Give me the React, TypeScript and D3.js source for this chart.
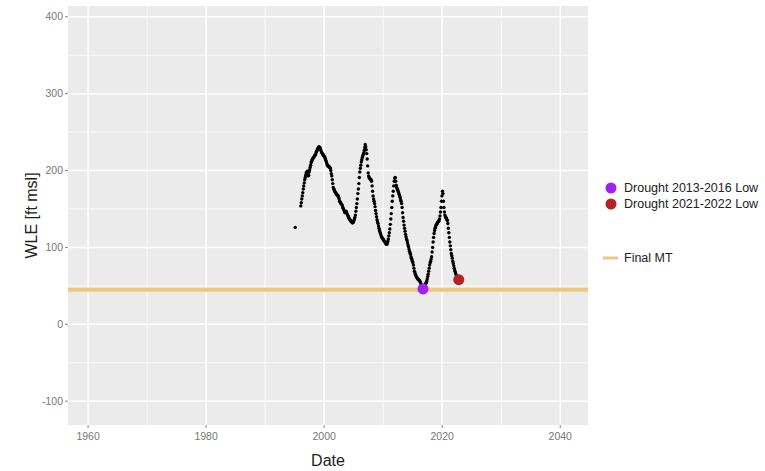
import React from "react";
import * as d3 from "d3";

const startYear = 1996.0;
// monthly WLE readings (ft msl), Jan 1996 onward
const wle: number[] = [
  // 1996
  154, 158, 163, 167, 171, 176, 180, 184, 188, 191, 194, 197,
  // 1997
  197, 199, 196, 193, 194, 198, 201, 204, 207, 210, 212, 214,
  // 1998
  215, 216, 217, 218, 219, 220, 221, 223, 225, 226, 228, 229,
  // 1999
  230, 231, 230, 230, 228, 226, 224, 223, 222, 221, 220, 219,
  // 2000
  218, 217, 215, 213, 211, 209, 207, 206, 206, 205, 205, 204,
  // 2001
  203, 200, 196, 193, 188, 183, 178, 176, 175, 173, 172, 171,
  // 2002
  170, 169, 168, 168, 167, 165, 163, 160, 159, 158, 157, 156,
  // 2003
  155, 153, 151, 150, 148, 146, 145, 146, 147, 146, 144, 142,
  // 2004
  141, 140, 138, 137, 136, 135, 134, 133, 133, 132, 132, 133,
  // 2005
  135, 137, 139, 142, 147, 152, 157, 163, 170, 176, 183, 191,
  // 2006
  198, 203, 207, 211, 214, 217, 219, 221, 223, 226, 230, 234,
  // 2007
  231, 227, 222, 215, 206, 197, 193, 191, 190, 189, 188, 188,
  // 2008
  186, 180, 173, 167, 163, 160, 157, 153, 148, 144, 140, 136,
  // 2009
  133, 131, 128, 125, 122, 120, 118, 116, 114, 113, 112, 111,
  // 2010
  110, 109, 108, 107, 106, 105, 104, 104, 106, 108, 111, 115,
  // 2011
  119, 124, 130, 137, 144, 152, 160, 167, 173, 180, 186, 190,
  // 2012
  191, 186, 181, 178, 176, 175, 173, 171, 169, 167, 165, 162,
  // 2013
  160, 157, 152, 145, 139, 134, 129, 125, 121, 117, 114, 111,
  // 2014
  109, 106, 103, 101, 98, 95, 93, 91, 88, 86, 84, 82,
  // 2015
  80, 77, 73, 69, 67, 65, 63, 62, 61, 60, 59, 58,
  // 2016
  58, 57, 56, 55, 53, 51, 49, 47, 46, 46, 47, 49,
  // 2017
  51, 52, 53, 54, 56, 59, 62, 65, 69, 73, 77, 80,
  // 2018
  82, 85, 88, 94, 100, 107, 113, 118, 122, 125, 127, 129,
  // 2019
  130, 131, 132, 133, 134, 135, 137, 141, 146, 152, 160, 167,
  // 2020
  173, 170, 160, 152, 146, 142, 140, 139, 138, 136, 135, 131,
  // 2021
  125, 119, 113, 107, 102, 97, 92, 89, 86, 82, 79, 76,
  // 2022
  73, 70, 68, 66, 64, 62, 61, 60, 59, 58,
];
const earlyYear = 1995.1;
const earlyValue = 126;

const lows = [
  { label: "Drought 2013-2016 Low", year: 2016.75, value: 46, color: "#A020F0" },
  { label: "Drought 2021-2022 Low", year: 2022.8, value: 58, color: "#B22222" },
];
const finalMT = 45;
const finalMTLabel = "Final MT";

const xTicks = [1960, 1980, 2000, 2020, 2040];
const xMinor = [1970, 1990, 2010, 2030];
const yTicks = [-100, 0, 100, 200, 300, 400];
const yMinor = [-50, 50, 150, 250, 350];

const W = 765;
const H = 471;
const P = { left: 68, right: 588, top: 6, bottom: 425 };

export default function App() {
  const x = d3.scaleLinear().domain([1956.6, 2044.7]).range([P.left, P.right]);
  const y = d3.scaleLinear().domain([-131, 414]).range([P.bottom, P.top]);
  const font = "'Liberation Sans', Arial, Helvetica, sans-serif";
  const pts = [
    { t: earlyYear, v: earlyValue },
    ...wle.map((v, i) => ({ t: startYear + i / 12 + 0.04, v })),
  ];
  return (
    <svg width={W} height={H} style={{ position: "absolute", left: 0, top: 0, background: "#fff" }} fontFamily={font}>
      <rect x={P.left} y={P.top} width={P.right - P.left} height={P.bottom - P.top} fill="#EBEBEB" />
      {xMinor.map((t) => (
        <line key={"xm" + t} x1={x(t)} x2={x(t)} y1={P.top} y2={P.bottom} stroke="#fff" strokeWidth={0.8} />
      ))}
      {yMinor.map((t) => (
        <line key={"ym" + t} x1={P.left} x2={P.right} y1={y(t)} y2={y(t)} stroke="#fff" strokeWidth={0.8} />
      ))}
      {xTicks.map((t) => (
        <line key={"xM" + t} x1={x(t)} x2={x(t)} y1={P.top} y2={P.bottom} stroke="#fff" strokeWidth={1.5} />
      ))}
      {yTicks.map((t) => (
        <line key={"yM" + t} x1={P.left} x2={P.right} y1={y(t)} y2={y(t)} stroke="#fff" strokeWidth={1.5} />
      ))}
      <line x1={P.left} x2={P.right} y1={y(finalMT)} y2={y(finalMT)} stroke="#F2C57F" strokeWidth={4} />
      {pts.map((p, i) => (
        <circle key={i} cx={x(p.t)} cy={y(p.v)} r={1.7} fill="#000" />
      ))}
      {lows.map((l) => (
        <circle key={l.label} cx={x(l.year)} cy={y(l.value)} r={5.5} fill={l.color} />
      ))}
      {/* axes ticks */}
      {yTicks.map((t) => (
        <g key={"yt" + t}>
          <line x1={P.left - 3} x2={P.left} y1={y(t)} y2={y(t)} stroke="#666" strokeWidth={0.8} />
          <text x={P.left - 5} y={y(t)} dy="0.35em" textAnchor="end" fontSize={10.5} fill="#777">
            {t}
          </text>
        </g>
      ))}
      {xTicks.map((t) => (
        <g key={"xt" + t}>
          <line x1={x(t)} x2={x(t)} y1={P.bottom} y2={P.bottom + 3} stroke="#666" strokeWidth={0.8} />
          <text x={x(t)} y={P.bottom + 15} textAnchor="middle" fontSize={10.5} fill="#777">
            {t}
          </text>
        </g>
      ))}
      <text x={(P.left + P.right) / 2} y={466} textAnchor="middle" fontSize={16} fill="#222">
        Date
      </text>
      <text
        transform={`translate(37, ${(P.top + P.bottom) / 2}) rotate(-90)`}
        textAnchor="middle"
        fontSize={16}
        fill="#222"
      >
        WLE [ft msl]
      </text>
      {/* legend */}
      {lows.map((l, i) => (
        <g key={"lg" + l.label}>
          <circle cx={611} cy={188 + i * 16} r={5.5} fill={l.color} />
          <text x={624} y={188 + i * 16} dy="0.35em" fontSize={12.5} fill="#222">
            {l.label}
          </text>
        </g>
      ))}
      <line x1={603} x2={618} y1={258} y2={258} stroke="#F2C57F" strokeWidth={3} />
      <text x={624} y={258} dy="0.35em" fontSize={12.5} fill="#222">
        {finalMTLabel}
      </text>
    </svg>
  );
}
